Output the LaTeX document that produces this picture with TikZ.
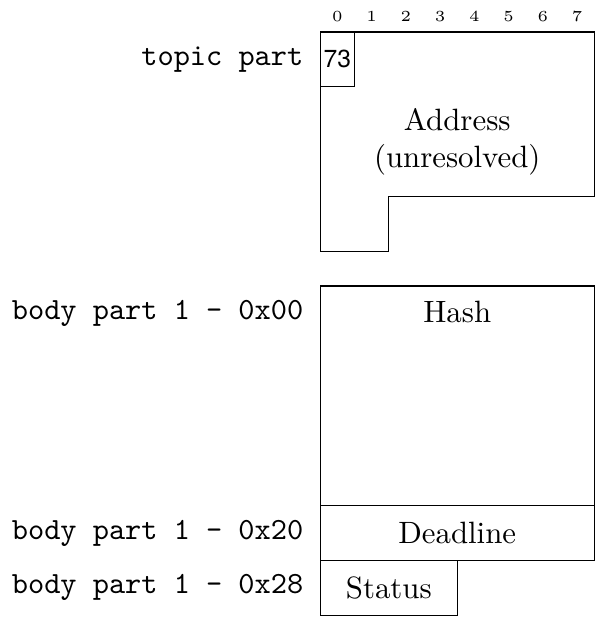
\documentclass[tikz,border=0pt]{standalone}
\usepackage{fontspec}
\newfontfamily\typefont{TeX Gyre Heros}
\usepackage{tikz}
\usetikzlibrary{positioning}
\tikzset{
  field-box/.style={draw,rectangle,inner sep=0pt,outer sep=0pt,anchor=north west,
    minimum height=17.8pt,align=center},
  field-name/.style={align=center},
  row-label/.style={font=\ttfamily},
  col-label/.style={font=\tiny},
}

\begin{document}
\begin{tikzpicture}[x=11.1pt,y=17.8pt]
  \useasboundingbox (-9.36,0.582) rectangle (8.07,-10.66);
  % byte columns
  \foreach \i in {0,...,7}
    \node[col-label] (col-\i) at (\i+0.5,0.28) {\i};
  % topic part
  \node[field-box,minimum width=11.1pt,font=\footnotesize\typefont] (type) at (0,0) {73};
  \draw (type.north east) -- (8,0) -- (8,-3) -- (2,-3) -- (2,-4) -- (0,-4) -- (type.south west);
  \node[field-name] (addr) at (4,-2) {Address\\(unresolved)};
  \node[row-label,left=2pt of type] (lbl-topic) {topic part};
  % body part 1
  \node[field-box,minimum width=88.8pt,minimum height=71.2pt] (hash) at (0,-4.63) {};
  \node[field-name] (hash-name) at (4,-5.1) {Hash};
  \node[field-box,minimum width=88.8pt] (deadline) at (hash.south west) {Deadline};
  \node[field-box,minimum width=44.4pt] (status) at (deadline.south west) {Status};
  \node[row-label,left=2pt of hash.north west,yshift=-8.9pt] (lbl-hash) {body part 1 - 0x00};
  \node[row-label,left=2pt of deadline] (lbl-deadline) {body part 1 - 0x20};
  \node[row-label,left=2pt of status] (lbl-status) {body part 1 - 0x28};
\end{tikzpicture}
\end{document}
